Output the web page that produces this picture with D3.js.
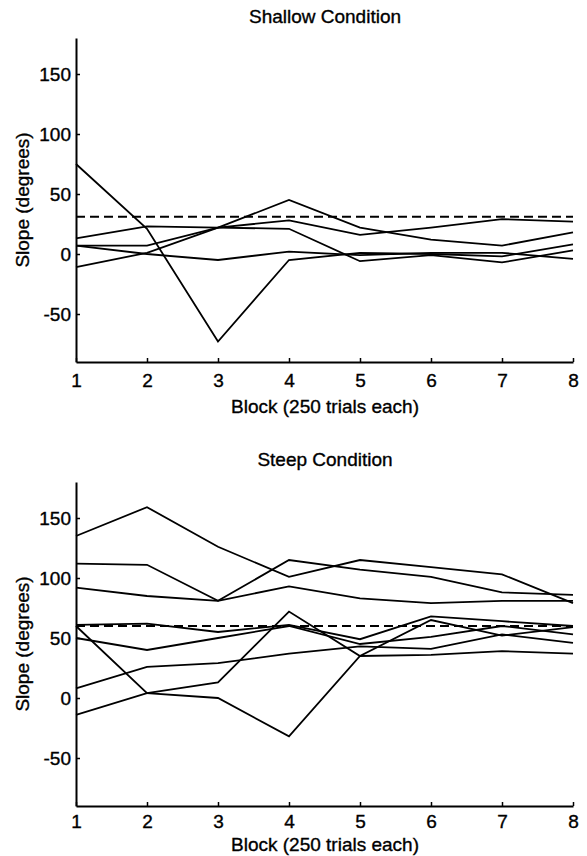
<!DOCTYPE html>
<html>
<head>
<meta charset="utf-8">
<script src="https://cdn.jsdelivr.net/npm/d3@7"></script>
<style>
  html, body { margin: 0; padding: 0; background: #fff; }
  svg { display: block; }
  text { font-family: "Liberation Sans", Arial, Helvetica, sans-serif; fill: #000; }
</style>
</head>
<body>
<svg id="chart" width="587" height="856"></svg>
<script>
// ---------- data ----------
const blocks = [1, 2, 3, 4, 5, 6, 7, 8];
const xTickLabels = ["1", "2", "3", "4", "5", "6", "7", "8"];
const yTicks = [-50, 0, 50, 100, 150];
const yTickLabels = ["-50", "0", "50", "100", "150"];
const yDomain = [-90, 180];

const shallowTitle = "Shallow Condition";
const shallowTarget = 31;
const shallowS1 = [75, 21, -73, -5, 1, 0, -2, 8];
const shallowS2 = [13, 23, 22, 21, -6, -1, -7, 3];
const shallowS3 = [7, 7, 22, 28, 16, 22, 29, 27];
const shallowS4 = [7, 0, -5, 2, -1, 1, 1, -4];
const shallowS5 = [-11, 1, 22, 45, 22, 12, 7, 18];

const steepTitle = "Steep Condition";
const steepTarget = 60;
const steepS1 = [135, 159, 126, 101, 115, 109, 103, 79];
const steepS2 = [112, 111, 81, 115, 107, 101, 88, 86];
const steepS3 = [92, 85, 81, 93, 83, 79, 81, 81];
const steepS4 = [61, 62, 55, 61, 49, 68, 64, 60];
const steepS5 = [60, 4, 0, -32, 35, 65, 52, 59];
const steepS6 = [50, 40, 50, 60, 45, 51, 60, 53];
const steepS7 = [8, 26, 29, 37, 43, 41, 53, 46];
const steepS8 = [-14, 4, 13, 72, 35, 36, 39, 37];

const xLabel = "Block (250 trials each)";
const yLabel = "Slope (degrees)";

// ---------- drawing ----------
const svg = d3.select("#chart");
const FONT = 19;

function styleText(sel) {
  sel.style("font-family", '"Liberation Sans", Arial, Helvetica, sans-serif')
     .style("font-size", FONT + "px")
     .attr("fill", "#000")
     .attr("stroke", "#000")
     .attr("stroke-width", 0.35);
}

function panel(cfg) {
  const g = svg.append("g");
  const x = d3.scaleLinear().domain([1, 8]).range([76, 573]);
  const y = d3.scaleLinear().domain(yDomain).range([cfg.bottom, cfg.top]);

  // series lines
  const line = d3.line().x((d, i) => x(blocks[i])).y(d => y(d));
  cfg.series.forEach(s => {
    g.append("path")
      .attr("d", line(s))
      .attr("fill", "none")
      .attr("stroke", "#000")
      .attr("stroke-width", 1.8)
      .attr("stroke-linejoin", "miter");
  });

  // dashed target line
  g.append("line")
    .attr("x1", x(1)).attr("x2", x(8))
    .attr("y1", y(cfg.target)).attr("y2", y(cfg.target))
    .attr("stroke", "#000")
    .attr("stroke-width", 2)
    .attr("stroke-dasharray", "9,5");

  // axes
  const xAxis = d3.axisBottom(x)
    .tickValues(blocks)
    .tickFormat((d, i) => xTickLabels[i])
    .tickSizeInner(-4).tickSizeOuter(0).tickPadding(cfg.xPad);
  const yAxis = d3.axisLeft(y)
    .tickValues(yTicks)
    .tickFormat((d, i) => yTickLabels[i])
    .tickSizeInner(-4).tickSizeOuter(0).tickPadding(5);

  const gx = g.append("g").attr("transform", `translate(0,${cfg.bottom})`).call(xAxis);
  const gy = g.append("g").attr("transform", `translate(76,0)`).call(yAxis);
  [gx, gy].forEach(a => {
    a.select(".domain").attr("stroke", "#000").attr("stroke-width", 2);
    a.selectAll(".tick line").attr("stroke", "#000").attr("stroke-width", 1.5);
    styleText(a.selectAll(".tick text"));
  });

  // title
  styleText(g.append("text")
    .attr("x", 325).attr("y", cfg.titleY)
    .attr("text-anchor", "middle")
    .text(cfg.title));

  // x label
  styleText(g.append("text")
    .attr("x", 325).attr("y", cfg.xLabelY)
    .attr("text-anchor", "middle")
    .text(xLabel));

  // y label
  const cy = (cfg.top + cfg.bottom) / 2;
  styleText(g.append("text")
    .attr("transform", `translate(29,${cy}) rotate(-90)`)
    .attr("text-anchor", "middle")
    .text(yLabel));
}

panel({
  title: shallowTitle, top: 38, bottom: 362, target: shallowTarget,
  titleY: 23, xLabelY: 413, xPad: 12,
  series: [shallowS1, shallowS2, shallowS3, shallowS4, shallowS5]
});
panel({
  title: steepTitle, top: 482, bottom: 806, target: steepTarget,
  titleY: 466, xLabelY: 851, xPad: 9,
  series: [steepS1, steepS2, steepS3, steepS4, steepS5, steepS6, steepS7, steepS8]
});
</script>
</body>
</html>
